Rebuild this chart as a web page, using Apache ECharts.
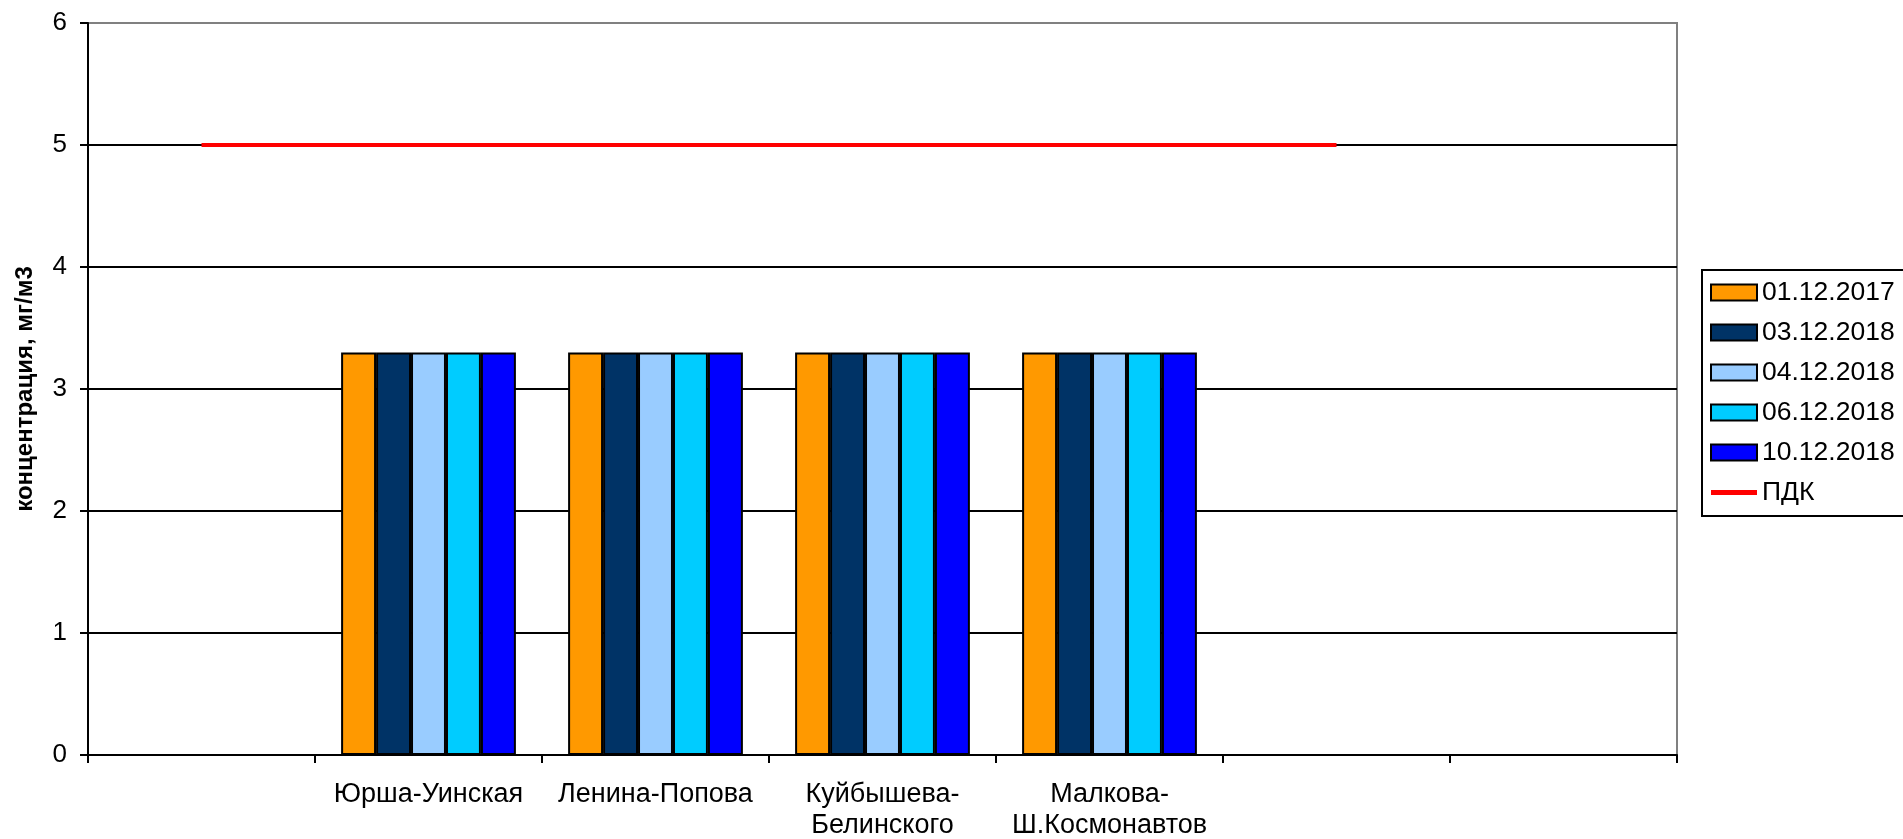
<!DOCTYPE html>
<html>
<head>
<meta charset="utf-8">
<script src="https://cdn.jsdelivr.net/npm/echarts@6/dist/echarts.min.js"></script>
<style>
html,body{margin:0;padding:0;background:#fff;}
#chart{width:1903px;height:839px;}
</style>
</head>
<body>
<div id="chart"></div>
<script>
const categories = ["", "Юрша-Уинская", "Ленина-Попова", "Куйбышева-\nБелинского", "Малкова-\nШ.Космонавтов", "", ""];
const seriesNames = ["01.12.2017", "03.12.2018", "04.12.2018", "06.12.2018", "10.12.2018"];
const s20171201 = [null, 3.3, 3.3, 3.3, 3.3, null, null];
const s20181203 = [null, 3.3, 3.3, 3.3, 3.3, null, null];
const s20181204 = [null, 3.3, 3.3, 3.3, 3.3, null, null];
const s20181206 = [null, 3.3, 3.3, 3.3, 3.3, null, null];
const s20181210 = [null, 3.3, 3.3, 3.3, 3.3, null, null];
const pdk = [5, 5, 5, 5, 5, 5, null];
const yTicks = [0, 1, 2, 3, 4, 5, 6];

const barData = [s20171201, s20181203, s20181204, s20181206, s20181210];
const barColors = ["#FF9900", "#003366", "#99CCFF", "#00CCFF", "#0000FF"];
const FONT = "'Liberation Sans', Arial, sans-serif";

const series = barData.map((d, i) => ({
  name: seriesNames[i],
  type: 'bar',
  data: d,
  barGap: '0%',
  barCategoryGap: '23%',
  itemStyle: { color: barColors[i], borderColor: '#000', borderWidth: 2 },
  emphasis: { disabled: true }
}));
series.push({
  name: 'ПДК',
  type: 'line',
  data: pdk,
  symbol: 'none',
  z: 5,
  lineStyle: { color: '#FF0000', width: 4 },
  itemStyle: { color: '#FF0000' },
  emphasis: { disabled: true }
});

const chart = echarts.init(document.getElementById('chart'), null, { renderer: 'canvas' });
chart.setOption({
  animation: false,
  backgroundColor: '#fff',
  textStyle: { fontFamily: FONT },
  grid: {
    left: 88, right: 226, top: 23, bottom: 84,
    containLabel: false,
    outerBoundsMode: 'none',
    show: true, borderColor: '#808080', borderWidth: 2, backgroundColor: 'transparent'
  },
  legend: {
    orient: 'vertical',
    left: 1702,
    top: 270,
    padding: [9, 40, 10, 8],
    itemGap: 13,
    itemWidth: 46,
    itemHeight: 16,
    borderColor: '#000',
    borderWidth: 2,
    textStyle: { fontSize: 26.5, color: '#000', fontFamily: FONT },
    data: seriesNames.map(n => ({ name: n, icon: 'rect', itemStyle: { borderColor: '#000', borderWidth: 2 } }))
      .concat([{ name: 'ПДК', icon: 'path://M0,0 L46,0 L46,5 L0,5 Z', itemStyle: { color: '#FF0000', borderWidth: 0 } }])
  },
  xAxis: {
    type: 'category',
    data: categories,
    boundaryGap: true,
    axisLine: { lineStyle: { color: '#000', width: 2 } },
    axisTick: { show: true, length: 8, lineStyle: { color: '#000', width: 2 } },
    axisLabel: { interval: 0, fontSize: 27, lineHeight: 31, color: '#000', margin: 24, fontFamily: FONT },
    splitLine: { show: false }
  },
  yAxis: {
    type: 'value',
    min: yTicks[0],
    max: yTicks[yTicks.length - 1],
    interval: 1,
    name: 'концентрация, мг/м3',
    nameLocation: 'middle',
    nameGap: 51,
    nameTextStyle: { fontSize: 24, fontWeight: 'bold', color: '#000', fontFamily: FONT },
    axisLine: { show: true, lineStyle: { color: '#000', width: 2 } },
    axisTick: { show: true, length: 8, lineStyle: { color: '#000', width: 2 } },
    axisLabel: { fontSize: 26, color: '#000', margin: 21, fontFamily: FONT },
    splitLine: { show: true, showMinLine: false, showMaxLine: false, lineStyle: { color: '#000', width: 2 } }
  },
  series: series
});
</script>
</body>
</html>
